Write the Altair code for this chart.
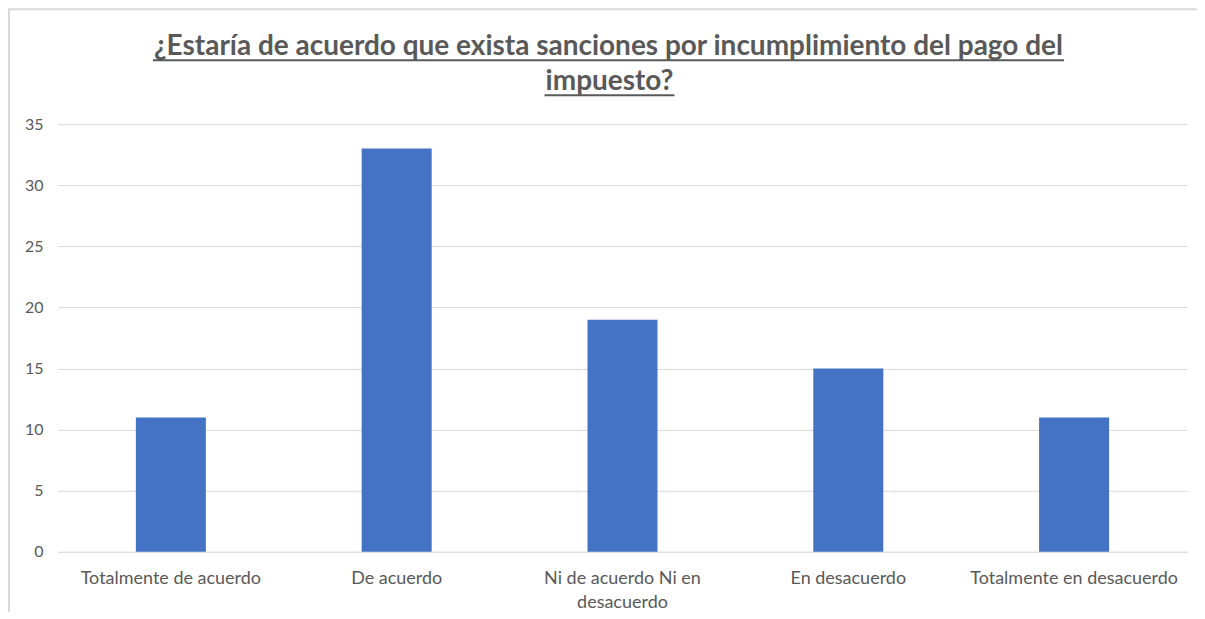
import altair as alt
import pandas as pd

categories = ["Totalmente de acuerdo", "De acuerdo", "Ni de acuerdo Ni en desacuerdo",
              "En desacuerdo", "Totalmente en desacuerdo"]
values = [11, 33, 19, 15, 11]
title_line1 = "¿Estaría de acuerdo que exista sanciones por incumplimiento del pago del"
title_line2 = "impuesto?"

df = pd.DataFrame({"cat": categories, "val": values})
one = pd.DataFrame({"a": [0]})

GRAY = "#595959"
LINE = "#d9d9d9"
FONT = "Lato"

bars = alt.Chart(df).mark_bar(color="#4472C4").encode(
    x=alt.X("cat:N", sort=categories, title=None,
            scale=alt.Scale(paddingInner=0.69, paddingOuter=0.345),
            axis=alt.Axis(labelAngle=0, labelFontSize=18, labelColor=GRAY, labelFont=FONT,
                          labelPadding=18, labelLineHeight=24, ticks=False, labelLimit=400,
                          domainColor=LINE, domainWidth=1,
                          labelExpr="datum.label == 'Ni de acuerdo Ni en desacuerdo' ? ['Ni de acuerdo Ni en', 'desacuerdo'] : datum.label")),
    y=alt.Y("val:Q", title=None,
            scale=alt.Scale(domain=[0, 35]),
            axis=alt.Axis(values=[0, 5, 10, 15, 20, 25, 30, 35], labelFontSize=16, labelColor=GRAY,
                          labelFont=FONT, labelPadding=15, ticks=False, domain=False,
                          gridColor=LINE, gridWidth=1)),
)

t1 = alt.Chart(one).mark_text(text=title_line1, font=FONT, fontSize=28, fontWeight="bold",
                              color=GRAY, align="center", baseline="alphabetic").encode(
    x=alt.value(551), y=alt.value(-69))
t2 = alt.Chart(one).mark_text(text=title_line2, font=FONT, fontSize=28, fontWeight="bold",
                              color=GRAY, align="center", baseline="alphabetic").encode(
    x=alt.value(552), y=alt.value(-34))
u1 = alt.Chart(one).mark_rule(color=GRAY, strokeWidth=2).encode(
    x=alt.value(95), x2=alt.value(1007), y=alt.value(-64))
u2 = alt.Chart(one).mark_rule(color=GRAY, strokeWidth=2).encode(
    x=alt.value(487), x2=alt.value(617), y=alt.value(-29))
bl = alt.Chart(one).mark_rule(color=LINE, strokeWidth=2).encode(
    x=alt.value(-49), y=alt.value(-115), y2=alt.value(540))
bt = alt.Chart(one).mark_rule(color=LINE, strokeWidth=2).encode(
    x=alt.value(-50), x2=alt.value(1200), y=alt.value(-115))

chart = alt.layer(bars, t1, t2, u1, u2, bl, bt).properties(
    width=1130, height=428,
    autosize=alt.AutoSizeParams(type="none"),
    padding={"left": 50, "top": 116, "right": 10, "bottom": 60},
).configure(background="white", view=alt.ViewConfig(stroke=None))

chart.save("out.html", embed_options={"renderer": "svg", "actions": False})
